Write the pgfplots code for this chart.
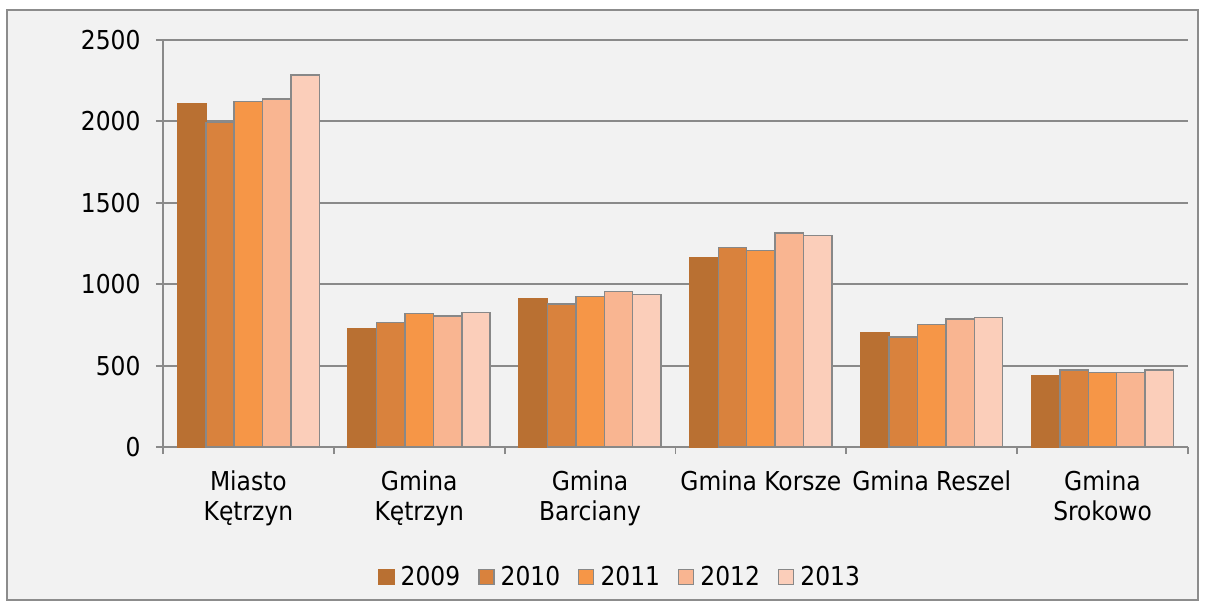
\documentclass[border=0pt]{standalone}
\usepackage{pgfplots}
\pgfplotsset{compat=1.18}
\usepackage{fontspec}
\setmainfont{DejaVu Sans Condensed}
\definecolor{bgc}{HTML}{F2F2F2}
\definecolor{framec}{HTML}{8C8C8C}
\definecolor{gridc}{HTML}{8A8A8A}
\definecolor{edgec}{HTML}{888888}
\definecolor{cA}{RGB}{185,112,50}
\definecolor{cB}{RGB}{217,130,61}
\definecolor{cC}{RGB}{246,150,71}
\definecolor{cD}{RGB}{249,181,145}
\definecolor{cE}{RGB}{251,206,186}
\newcommand{\bigf}{\fontsize{26}{30}\selectfont}
\begin{document}
\begin{tikzpicture}
\useasboundingbox (-163pt,-163pt) rectangle (1043pt,447pt);
\fill[white] (-163pt,-163pt) rectangle (1043pt,447pt);
\draw[fill=bgc, draw=framec, line width=1.8pt] (-156pt,-153pt) rectangle (1035pt,437pt);
\begin{axis}[
  at={(0pt,0pt)}, anchor=south west,
  scale only axis, width=1025pt, height=407pt,
  xmin=-0.5, xmax=5.5, ymin=0, ymax=2500,
  ytick={0,500,...,2500},
  /pgf/number format/assume math mode=true,
  /pgf/number format/1000 sep={},
  ymajorgrids, grid style={gridc, line width=1.8pt},
  axis x line*=bottom, axis y line*=left,
  axis line style={gridc, line width=1.8pt, -},
  tick style={gridc, line width=1.8pt},
  tick align=outside, major tick length=7pt,
  xtick={-0.5,0.5,...,5.5}, xticklabels={},
  extra x ticks={0,1,2,3,4,5},
  extra x tick labels={{Miasto\\Kętrzyn},{Gmina\\Kętrzyn},{Gmina\\Barciany},{Gmina Korsze},{Gmina Reszel},{Gmina\\Srokowo}},
  extra x tick style={major tick length=0pt, xticklabel style={align=center, anchor=north, yshift=-20pt}},
  xticklabel style={align=center, font=\bigf},
  yticklabel style={font=\bigf, xshift=-12pt},
  ybar=0pt, bar width=28.4pt,
  legend columns=5,
  legend style={at={(axis description cs:0.446,-0.319)}, anchor=center, draw=none, fill=none, font=\bigf,
    /tikz/every even column/.append style={column sep=16pt}},
  legend image code/.code={\draw[#1, line width=1.3pt] (0pt,-7.5pt) rectangle (15pt,7.5pt); \path (19pt,0pt);},
  every axis plot/.append style={draw=edgec, line width=1.5pt},
]
\addplot[fill=cA, draw=cA] coordinates {(0,2107) (1,729) (2,913) (3,1161) (4,700) (5,438)};
\addplot[fill=cB] coordinates {(0,1992) (1,766) (2,878) (3,1224) (4,676) (5,473)};
\addplot[fill=cC] coordinates {(0,2121) (1,819) (2,925) (3,1208) (4,753) (5,459)};
\addplot[fill=cD] coordinates {(0,2138) (1,805) (2,956) (3,1314) (4,786) (5,459)};
\addplot[fill=cE] coordinates {(0,2285) (1,827) (2,936) (3,1298) (4,794) (5,473)};
\legend{2009,2010,2011,2012,2013}
\end{axis}
\end{tikzpicture}
\end{document}
